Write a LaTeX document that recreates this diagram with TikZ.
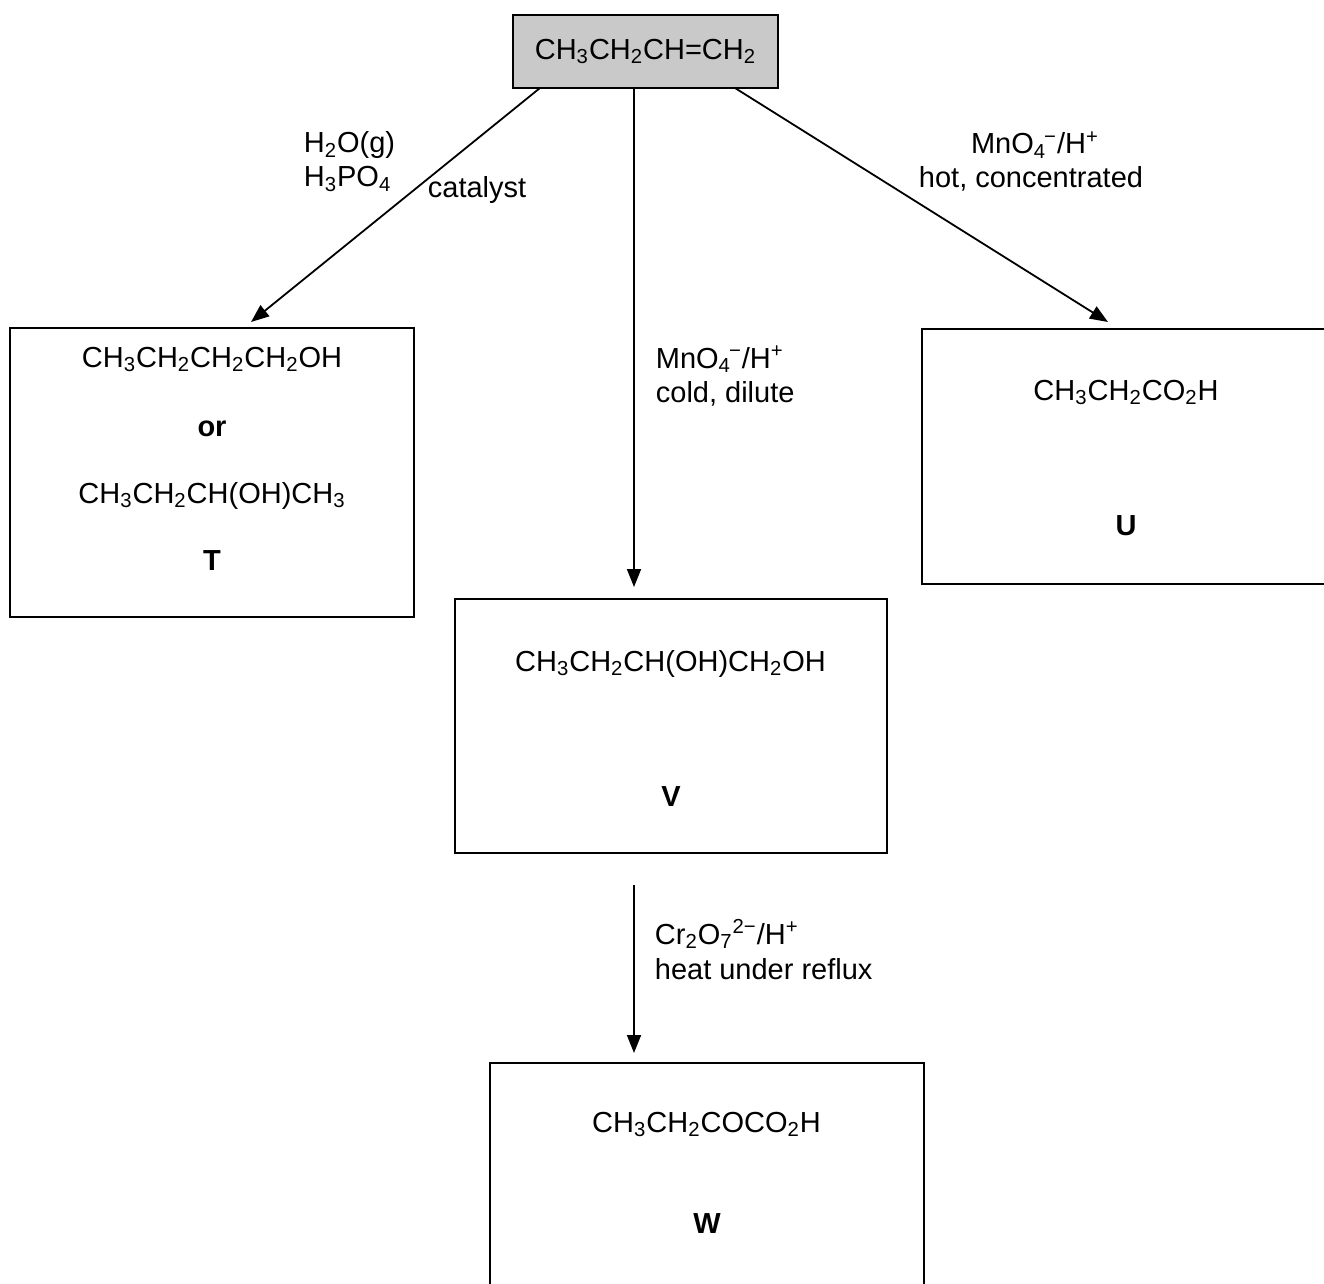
\documentclass[tikz,border=0pt]{standalone}
\usepackage{fontspec}
\setmainfont{Liberation Sans}
\usetikzlibrary{arrows.meta}
\begin{document}
\begin{tikzpicture}[x=0.5pt, y=-0.5pt, line width=0.9pt, >={Triangle[length=9pt,width=7pt]},
  box/.style={draw, rectangle, line width=1pt, inner sep=0pt},
  chem/.style={font=\fontsize{14.5pt}{17pt}\selectfont, inner sep=0pt, anchor=base},
  cond/.style={chem, anchor=base west},
  letter/.style={chem, font=\fontsize{14.5pt}{17pt}\selectfont\bfseries}]
\useasboundingbox (0,0) rectangle (1324,1284);
% starting alkene
\node[box, fill=gray!42, minimum width=132.5pt, minimum height=36.5pt, font=\fontsize{14.5pt}{17pt}\selectfont] (butene) at (645.5,51.5) {CH\textsubscript{3}CH\textsubscript{2}CH=CH\textsubscript{2}};
% product boxes
\node[box, minimum width=202pt, minimum height=144.5pt] (T) at (212,472.5) {};
\node[box, minimum width=204pt, minimum height=127.5pt] (U) at (1126,456.5) {};
\node[box, minimum width=216pt, minimum height=127pt] (V) at (671,726) {};
\node[box, minimum width=217pt, minimum height=133.5pt] (W) at (707,1196.5) {};
% box contents
\node[chem] (t1) at (212,367) {CH\textsubscript{3}CH\textsubscript{2}CH\textsubscript{2}CH\textsubscript{2}OH};
\node[letter] (tor) at (212,436) {or};
\node[chem] (t2) at (212,503) {CH\textsubscript{3}CH\textsubscript{2}CH(OH)CH\textsubscript{3}};
\node[letter] (tT) at (212,570) {T};
\node[chem] (u1) at (1126,400) {CH\textsubscript{3}CH\textsubscript{2}CO\textsubscript{2}H};
\node[letter] (uU) at (1126,535) {U};
\node[chem] (v1) at (670.5,671) {CH\textsubscript{3}CH\textsubscript{2}CH(OH)CH\textsubscript{2}OH};
\node[letter] (vV) at (671,806) {V};
\node[chem] (w1) at (706.5,1132) {CH\textsubscript{3}CH\textsubscript{2}COCO\textsubscript{2}H};
\node[letter] (wW) at (707,1233) {W};
% reaction conditions
\node[cond] (hyd1) at (303,153) {H\textsubscript{2}O(g)};
\node[cond] (hyd2) at (303,187) {H\textsubscript{3}PO\textsubscript{4}};
\node[cond] (hyd3) at (427,198) {catalyst};
\node[chem] (hot1) at (1035,154) {MnO\textsubscript{4}\kern-1pt\textsuperscript{−}/H\textsuperscript{+}};
\node[chem] (hot2) at (1031,188) {hot, concentrated};
\node[cond] (cold1) at (655,368) {MnO\textsubscript{4}\kern-1pt\textsuperscript{−}/H\textsuperscript{+}};
\node[cond] (cold2) at (655,402) {cold, dilute};
\node[cond] (ox1) at (654,944) {Cr\textsubscript{2}O\textsubscript{7}\textsuperscript{2−}/H\textsuperscript{+}};
\node[cond] (ox2) at (654,979) {heat under reflux};
% arrow ends
\coordinate (s1) at (540,88);
\coordinate (e1) at (251,322);
\coordinate (s2) at (634,88);
\coordinate (e2) at (634,587);
\coordinate (s3) at (735,88);
\coordinate (e3) at (1108,322);
\coordinate (s4) at (634,885);
\coordinate (e4) at (634,1053);
\draw [->] (s1) -- (e1);
\draw [->] (s2) -- (e2);
\draw [->] (s3) -- (e3);
\draw [->] (s4) -- (e4);
\end{tikzpicture}
\end{document}
